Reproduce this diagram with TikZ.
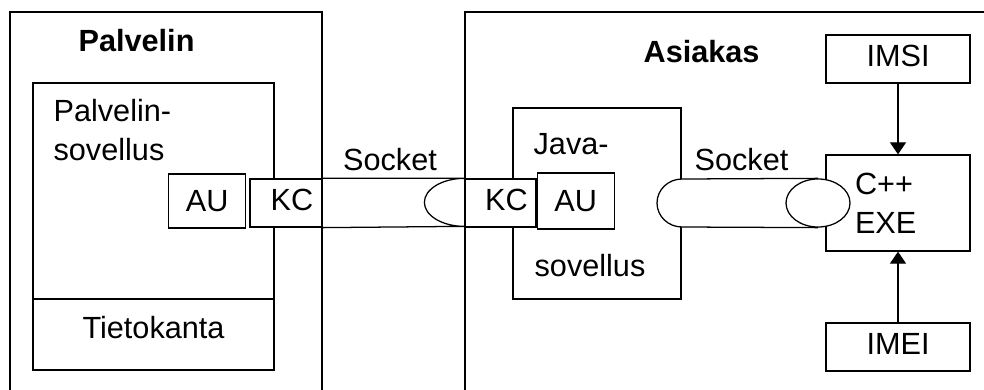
\documentclass[tikz,border=0pt]{standalone}
\usepackage{fontspec}
\setmainfont{Liberation Sans}
\usetikzlibrary{arrows.meta, positioning}

\begin{document}
\begin{tikzpicture}[
    every node/.style={font=\fontsize{21.8}{27.5}\selectfont, inner sep=0pt},
    line width=0.9pt,
    box/.style={draw, fill=white},
    low/.style={text height=1em, text depth=0pt},
    title/.style={font=\fontsize{21.8}{27.5}\selectfont\bfseries, anchor=base west},
    arr/.style={-{Triangle[length=0.3cm, width=0.4cm]}}
]
    \useasboundingbox (0,0) rectangle (24.6,9.725);
    \clip (0,0) rectangle (24.6,9.725);

    % palvelin ja asiakas, alareuna jatkuu ulos
    \draw (0.25,-0.5) |- (8.05,9.425) -- (8.05,-0.5);
    \draw (11.625,-0.5) |- (25,9.425);
    \node[title] (srvT) at (1.95,8.425) {Palvelin};
    \node[title] (cliT) at (16.075,8.15) {Asiakas};

    % palvelinsovellus ja tietokanta
    \node[box, minimum width=6.025cm, minimum height=7.175cm] (app) at (3.8375,4.0625) {};
    \draw (app.west |- 0,2.25) -- (app.east |- 0,2.25);
    \node[anchor=north west, align=left] (appL) at (1.325,7.26) {Palvelin-\\sovellus};
    \node (db) at (3.8375,1.5375) {Tietokanta};

    % java-sovellus
    \node[box, minimum width=4.2cm, minimum height=4.775cm] (java) at (14.925,4.6375) {};
    \node[anchor=base west] (javaA) at (13.325,5.85) {Java-};
    \node[anchor=base west] (javaB) at (13.35,2.825) {sovellus};

    % AU + KC
    \node[box, low, minimum width=1.8cm, minimum height=1.2cm] (kcL) at (7.15,4.65) {\hspace*{0.3cm}KC};
    \node[box, minimum width=1.925cm, minimum height=1.35cm, left=0.075cm of kcL, yshift=0.05cm] (auL) {AU};
    \node[box, low, minimum width=1.775cm, minimum height=1.2cm] (kcR) at (12.5125,4.65) {\hspace*{0.3cm}KC};
    \node[box, minimum width=1.925cm, minimum height=1.4cm, right=0pt of kcR, yshift=0.05cm] (auR) {AU};

    % socketit
    \draw (kcL.north east) -- (kcR.north west)
        arc[start angle=90, end angle=270, x radius=1cm, y radius=0.6cm] -- (kcL.south east);
    \node[anchor=base] (sock1) at (9.75,5.45) {Socket};

    \coordinate (s2) at (20.45,4.65);
    \draw[fill=white] (s2 |- kcR.north) -- (17.05,5.25)
        arc[start angle=90, end angle=270, x radius=0.625cm, y radius=0.6cm] -- (s2 |- kcR.south);
    \node[anchor=base] (sock2) at (18.5375,5.45) {Socket};

    % C++ EXE, IMSI, IMEI
    \node[box, minimum width=3.6cm, minimum height=2.4cm, align=left,
          text width=2.15cm, inner xsep=0.725cm] (exe) at (22.45,4.65) {C++\\EXE};
    \draw[fill=white] (s2) ellipse [x radius=0.8cm, y radius=0.6cm];

    \node[box, low, minimum width=3.6cm, minimum height=1.2cm] (imsi) at (22.45,8.25) {IMSI};
    \node[box, low, minimum width=3.6cm, minimum height=1.2cm] (imei) at (22.45,1.05) {IMEI};
    \draw[arr] (imsi) -- (exe);
    \draw[arr] (imei) -- (exe);
\end{tikzpicture}
\end{document}
